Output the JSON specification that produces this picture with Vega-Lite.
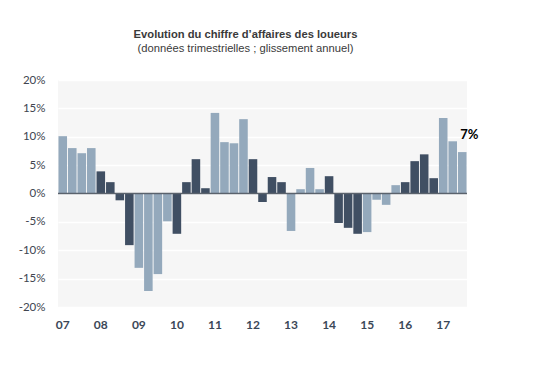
{
  "$schema": "https://vega.github.io/schema/vega-lite/v6.json",
  "width": 409,
  "height": 227,
  "autosize": {"type": "none"},
  "padding": {"left": 58, "top": 80, "right": 86, "bottom": 61},
  "background": "white",
  "config": {
    "view": {"fill": "#f6f6f6", "stroke": null},
    "font": "Liberation Sans"
  },
  "title": {
    "text": "Evolution du chiffre d’affaires des loueurs",
    "subtitle": "(données trimestrielles ; glissement annuel)",
    "anchor": "middle",
    "dx": -17,
    "offset": 20,
    "font": "Liberation Sans",
    "fontSize": 11.2,
    "fontWeight": "bold",
    "color": "#3a3a3a",
    "subtitleFont": "Liberation Sans",
    "subtitleFontSize": 11.2,
    "subtitleColor": "#3a3a3a",
    "subtitlePadding": 3
  },
  "data": {
    "values": [
      {"periode": "07T1", "annee": "07", "valeur": 10.1},
      {"periode": "07T2", "annee": "07", "valeur": 8.0},
      {"periode": "07T3", "annee": "07", "valeur": 7.1},
      {"periode": "07T4", "annee": "07", "valeur": 8.0},
      {"periode": "08T1", "annee": "08", "valeur": 3.9},
      {"periode": "08T2", "annee": "08", "valeur": 2.0},
      {"periode": "08T3", "annee": "08", "valeur": -1.2},
      {"periode": "08T4", "annee": "08", "valeur": -9.1},
      {"periode": "09T1", "annee": "09", "valeur": -13.1},
      {"periode": "09T2", "annee": "09", "valeur": -17.2},
      {"periode": "09T3", "annee": "09", "valeur": -14.2},
      {"periode": "09T4", "annee": "09", "valeur": -4.9},
      {"periode": "10T1", "annee": "10", "valeur": -7.1},
      {"periode": "10T2", "annee": "10", "valeur": 2.0},
      {"periode": "10T3", "annee": "10", "valeur": 6.05},
      {"periode": "10T4", "annee": "10", "valeur": 0.93},
      {"periode": "11T1", "annee": "11", "valeur": 14.2},
      {"periode": "11T2", "annee": "11", "valeur": 9.05},
      {"periode": "11T3", "annee": "11", "valeur": 8.85},
      {"periode": "11T4", "annee": "11", "valeur": 13.1},
      {"periode": "12T1", "annee": "12", "valeur": 6.05},
      {"periode": "12T2", "annee": "12", "valeur": -1.5},
      {"periode": "12T3", "annee": "12", "valeur": 2.9},
      {"periode": "12T4", "annee": "12", "valeur": 2.0},
      {"periode": "13T1", "annee": "13", "valeur": -6.6},
      {"periode": "13T2", "annee": "13", "valeur": 0.76},
      {"periode": "13T3", "annee": "13", "valeur": 4.5},
      {"periode": "13T4", "annee": "13", "valeur": 0.76},
      {"periode": "14T1", "annee": "14", "valeur": 3.05},
      {"periode": "14T2", "annee": "14", "valeur": -5.2},
      {"periode": "14T3", "annee": "14", "valeur": -6.05},
      {"periode": "14T4", "annee": "14", "valeur": -7.1},
      {"periode": "15T1", "annee": "15", "valeur": -6.8},
      {"periode": "15T2", "annee": "15", "valeur": -1.1},
      {"periode": "15T3", "annee": "15", "valeur": -2.0},
      {"periode": "15T4", "annee": "15", "valeur": 1.47},
      {"periode": "16T1", "annee": "16", "valeur": 2.0},
      {"periode": "16T2", "annee": "16", "valeur": 5.7},
      {"periode": "16T3", "annee": "16", "valeur": 6.9},
      {"periode": "16T4", "annee": "16", "valeur": 2.7},
      {"periode": "17T1", "annee": "17", "valeur": 13.3},
      {"periode": "17T2", "annee": "17", "valeur": 9.2},
      {"periode": "17T3", "annee": "17", "valeur": 7.3}
    ]
  },
  "encoding": {
    "x": {
      "field": "periode",
      "type": "nominal",
      "sort": null,
      "scale": {"paddingInner": 0.1, "paddingOuter": 0.05},
      "axis": {
        "title": null,
        "labelAngle": 0,
        "ticks": false,
        "domain": false,
        "labelPadding": 12,
        "labelFont": "Lato",
        "labelFontSize": 12,
        "labelFontWeight": "bold",
        "labelColor": "#3b4757",
        "labelExpr": "indexof(datum.value, 'T1') >= 0 ? slice(datum.value, 0, 2) : ''"
      }
    },
    "y": {
      "field": "valeur",
      "type": "quantitative",
      "scale": {"domain": [-20, 20], "nice": false},
      "axis": {
        "title": null,
        "values": [-20, -15, -10, -5, 0, 5, 10, 15, 20],
        "labelExpr": "datum.value + '%'",
        "ticks": false,
        "domain": false,
        "labelPadding": 13,
        "labelFont": "Lato",
        "labelFontSize": 11.5,
        "labelColor": "#404550",
        "gridColor": "white",
        "gridWidth": 1.5
      }
    }
  },
  "layer": [
    {
      "mark": {"type": "bar"},
      "encoding": {
        "color": {
          "field": "annee",
          "type": "nominal",
          "legend": null,
          "scale": {
            "domain": ["07", "08", "09", "10", "11", "12", "13", "14", "15", "16", "17"],
            "range": ["#94a9bc", "#404f63", "#94a9bc", "#404f63", "#94a9bc", "#404f63", "#94a9bc", "#404f63", "#94a9bc", "#404f63", "#94a9bc"]
          }
        }
      }
    },
    {
      "data": {"values": [{"zero": 0}]},
      "mark": {"type": "rule", "color": "#5a626c", "strokeWidth": 1.5},
      "encoding": {"x": null, "y": {"field": "zero", "type": "quantitative"}}
    },
    {
      "transform": [{"filter": "datum.periode == '17T3'"}],
      "mark": {"type": "text", "align": "left", "baseline": "middle", "dx": -2, "dy": -17, "font": "Lato", "fontSize": 13, "fontWeight": "bold", "color": "black"},
      "encoding": {"text": {"value": "7%"}}
    }
  ]
}
